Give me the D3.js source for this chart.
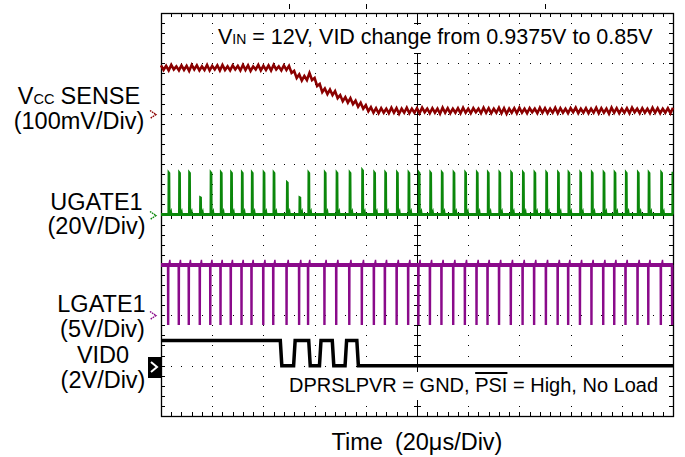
<!DOCTYPE html>
<html>
<head>
<meta charset="utf-8">
<script src="https://d3js.org/d3.v7.min.js"></script>
<style>
	body {
		margin: 0;
		background: #fff;
	}
	svg {
		display: block;
		font-family: "Liberation Sans", Arial, sans-serif;
	}
	.lbl {
		font-size: 23.5px;
		fill: #000;
	}
	.grid {
		stroke: #000;
		stroke-width: 1;
		shape-rendering: crispEdges;
	}
	.tick line {
		stroke: #000;
		shape-rendering: crispEdges;
	}
</style>
</head>
<body>
<script>

	// --- data (time in µs, 20µs/div, 10 div) ---
	var vccStep = 1;   // µs between VCC samples
	// VCC SENSE, mV above the channel marker (100mV/div)
	var vccMv = [
		96, 87, 95, 86, 97, 88, 94, 86, 96, 87,
		95, 85, 97, 88, 96, 86, 94, 87, 97, 86,
		95, 88, 96, 86, 97, 87, 94, 86, 96, 88,
		95, 86, 97, 87, 96, 85, 94, 88, 97, 86,
		95, 87, 96, 86, 97, 88, 94, 86, 96, 87,
		95, 81, 85, 71, 78, 66, 75, 67, 81, 67,
		71, 55, 59, 43, 50, 39, 48, 37, 45, 31,
		37, 25, 33, 22, 31, 19, 26, 14, 22, 10,
		17, 5, 13, 2, 11, 1,
		11, 2, 10, 1, 12, 2, 11, 0, 10, 2,
		12, 1, 10, 2, 11, 1, 12, 3, 10, 1,
		11, 2, 10, 0, 12, 2, 11, 1, 10, 2,
		11, 1, 12, 2, 10, 1, 11, 3, 10, 1,
		12, 2, 11, 1, 10, 2, 12, 1, 11, 0,
		10, 2, 11, 1, 12, 2, 10, 1, 11, 3,
		10, 1, 12, 2, 11, 1, 10, 2, 12, 1,
		11, 2, 10, 1, 11, 3, 12, 1, 10, 2,
		11, 1, 10, 2, 12, 1, 11, 2, 10, 0,
		12, 2, 11, 1, 10, 2, 11, 1, 12, 3,
		10, 1, 11, 2, 10, 1, 12, 2, 11, 1,
		10, 2, 11, 1, 12];

	// switching pulses (UGATE high / LGATE low), µs
	var pulseT = [2.85, 7.0, 10.9, 15.2, 19.3, 23.3, 27.3, 31.5, 35.4, 40.0, 43.9, 49.1, 54.0, 57.5, 63.9,
		68.5, 73.6, 78.5, 83.2, 87.5, 92.1, 96.6, 100.6, 105.1, 109.6, 114.2, 118.75, 123.3, 127.6, 132.1,
		136.7, 141.3, 145.8, 150.4, 155.0, 159.1, 163.7, 168.2, 172.8, 177.1, 181.5, 186.2, 190.4, 195.3, 199.7];
	// UGATE peak per pulse, V (20V/div)
	var ugateV = [17, 17, 17, 7, 17, 17, 17, 17, 17, 17, 17, 13, 7, 17, 17, 17, 17, 18, 17, 17, 17, 17, 17,
		17, 17, 17, 17, 17, 17, 17, 17, 17, 17, 17, 17, 17, 17, 17, 17, 17, 17, 17, 17, 17, 17];
	// LGATE levels, V (5V/div)
	var lgateHigh = 5, lgateLow = -0.9;
	// VID0 edges, µs, starting high (2V/div)
	var vidEdges = [46.8, 52.0, 57.9, 62.1, 67.1, 72.1, 76.7];
	var vidHigh = 1.0;
	// small marks above the screen, µs
	var markT = [50, 80, 150];

	// channel offsets (div) and scales (units per div)
	var chans = {
		vcc:   {off: 2,  per: 100, color: "#8b0000"},
		ugate: {off: 0,  per: 20,  color: "#0b870b"},
		lgate: {off: -2, per: 5,   color: "#8a0a8a"},
		vid:   {off: -3, per: 2,   color: "#000"}
	};

	var W = 685, H = 457;
	var pl = 161, pr = 673, pt = 13, pb = 416;

	var svg = d3.select("body").append("svg")
		.attr("width", W).attr("height", H);

	var x = d3.scaleLinear().domain([0, 200]).range([pl, pr]);
	var y = d3.scaleLinear().domain([-4, 4]).range([pb, pt]);

	function lev(ch, v) { return chans[ch].off + v / chans[ch].per; }

	// dotted graticule: a dot on every minor step
	var grid = svg.append("g");
	var xMinor = d3.range(0, 200.01, 4);
	var yMinor = d3.range(-4, 4.01, 0.2);
	d3.range(20, 200, 20).filter(function(t) { return t != 100; }).forEach(function(t) {
		grid.selectAll(null).data(yMinor).enter().append("rect")
			.attr("x", Math.round(x(t))).attr("y", function(d) { return Math.round(y(d)); })
			.attr("width", 1).attr("height", 1).attr("fill", "#000");
	});
	d3.range(-3, 4).filter(function(d) { return d != 0; }).forEach(function(d) {
		grid.selectAll(null).data(xMinor).enter().append("rect")
			.attr("x", function(t) { return Math.round(x(t)); }).attr("y", Math.round(y(d)))
			.attr("width", 1).attr("height", 1).attr("fill", "#000");
	});

	// centre cross
	svg.append("line").attr("class", "grid")
		.attr("x1", Math.round(x(100)) + 0.5).attr("x2", Math.round(x(100)) + 0.5)
		.attr("y1", pt).attr("y2", pb);
	svg.append("line").attr("class", "grid")
		.attr("y1", Math.round(y(0)) + 0.5).attr("y2", Math.round(y(0)) + 0.5)
		.attr("x1", pl).attr("x2", pr);

	function clean(g) { g.select(".domain").remove(); g.selectAll("text").remove(); }

	svg.append("g").attr("transform", "translate(0," + pt + ")")
		.call(d3.axisTop(x).tickValues(xMinor).tickSize(-4).tickFormat("")).call(clean);
	svg.append("g").attr("transform", "translate(0," + pb + ")")
		.call(d3.axisBottom(x).tickValues(xMinor).tickSize(-4).tickFormat("")).call(clean);
	svg.append("g").attr("transform", "translate(" + pl + ",0)")
		.call(d3.axisLeft(y).tickValues(yMinor).tickSize(-4).tickFormat("")).call(clean);
	svg.append("g").attr("transform", "translate(" + pr + ",0)")
		.call(d3.axisRight(y).tickValues(yMinor).tickSize(-4).tickFormat("")).call(clean);
	svg.append("g").attr("transform", "translate(" + (Math.round(x(100)) + 4) + ",0)")
		.call(d3.axisLeft(y).tickValues(yMinor).tickSize(7).tickFormat("")).call(clean);
	svg.append("g").attr("transform", "translate(0," + (Math.round(y(0)) - 3) + ")")
		.call(d3.axisBottom(x).tickValues(xMinor).tickSize(7).tickFormat("")).call(clean);

	// frame
	svg.append("rect").attr("x", pl + 0.5).attr("y", pt + 0.5)
		.attr("width", pr - pl).attr("height", pb - pt)
		.attr("fill", "none").attr("stroke", "#000").attr("stroke-width", 1.3);

	// marks above the screen
	markT.forEach(function(t) {
		svg.append("line").attr("class", "grid").attr("x1", Math.round(x(t)) + 0.5).attr("x2", Math.round(x(t)) + 0.5)
			.attr("y1", 4).attr("y2", 9).attr("stroke-width", 1);
	});

	// text boxes (white background hides graticule)
	svg.append("rect").attr("x", 214).attr("y", 25).attr("width", 446).attr("height", 28).attr("fill", "#fff");
	svg.append("rect").attr("x", 285).attr("y", 372).attr("width", 380).attr("height", 28).attr("fill", "#fff");

	var line = d3.line().x(function(d) { return x(d[0]); }).y(function(d) { return y(d[1]); });

	// VCC SENSE
	var vccPts = vccMv.map(function(v, i) { return [Math.min(i * vccStep, 200), lev("vcc", v)]; });
	svg.append("path").attr("d", line(vccPts))
		.attr("fill", "none").attr("stroke", chans.vcc.color).attr("stroke-width", 2.6);

	// UGATE1
	svg.append("path").attr("d", line([[0, 0], [200, 0]]))
		.attr("fill", "none").attr("stroke", chans.ugate.color).attr("stroke-width", 3.2);
	var ugPts = [[0, 0]];
	pulseT.forEach(function(t, i) {
		var h = lev("ugate", ugateV[i]);
		ugPts.push([t - 0.02, 0], [t + 0.05, h], [t + 0.45, h * 0.97], [t + 0.55, 0],
			[t + 1.1, lev("ugate", 1.4)], [t + 1.3, 0]);
	});
	ugPts.push([200, 0]);
	svg.append("path").attr("d", line(ugPts.filter(function(p) { return p[0] <= 200; })))
		.attr("fill", "none").attr("stroke", chans.ugate.color).attr("stroke-width", 1.7);

	// LGATE1
	var hi = lev("lgate", lgateHigh), lo = lev("lgate", lgateLow);
	var lgPts = [[0, hi]];
	pulseT.forEach(function(t) {
		lgPts.push([t - 0.3, hi], [t - 0.25, lo], [t + 0.15, lo], [t + 0.2, hi],
			[t + 0.6, lev("lgate", lgateHigh + 0.5)], [t + 0.8, hi]);
	});
	lgPts.push([200, hi]);
	svg.append("path").attr("d", line(lgPts.filter(function(p) { return p[0] <= 200; })))
		.attr("fill", "none").attr("stroke", chans.lgate.color).attr("stroke-width", 1.4);
	svg.append("path").attr("d", line([[0, hi], [200, hi]]))
		.attr("fill", "none").attr("stroke", chans.lgate.color).attr("stroke-width", 4);

	// VID0
	var level = vidHigh;
	var vidPts = [[0, lev("vid", level)]];
	vidEdges.forEach(function(e) {
		var next = level > 0 ? 0 : vidHigh;
		vidPts.push([e - 0.2, lev("vid", level)], [e + 0.4, lev("vid", next)]);
		level = next;
	});
	vidPts.push([200, lev("vid", level)]);
	svg.append("path").attr("d", line(vidPts))
		.attr("fill", "none").attr("stroke", chans.vid.color).attr("stroke-width", 3.5)
		.attr("stroke-linejoin", "miter");

	// channel markers
	function chevron(ch) {
		var cy = Math.round(y(chans[ch].off)) + 0.5;
		svg.append("path")
			.attr("d", "M150," + (cy - 4) + "L156," + cy + "L150," + (cy + 4))
			.attr("fill", "none").attr("stroke", chans[ch].color).attr("stroke-width", 1.4)
			.attr("stroke-dasharray", "1.6,0.8");
	}
	chevron("vcc");
	chevron("ugate");
	chevron("lgate");
	var vy = Math.round(y(chans.vid.off));
	svg.append("rect").attr("x", 148).attr("y", vy - 9).attr("width", 13).attr("height", 21).attr("fill", "#000");
	svg.append("path").attr("d", "M151," + (vy - 4) + "L157," + (vy + 1) + "L151," + (vy + 6))
		.attr("fill", "none").attr("stroke", "#fff").attr("stroke-width", 2);

	// channel labels, each line centred on cx
	function label(cx, yy, parts) {
		var t = svg.append("text").attr("class", "lbl").attr("y", yy);
		var extra = 0;
		parts.forEach(function(p) {
			var s = t.append("tspan").text(p.s);
			if (p.small) s.attr("font-size", "0.62em");
			if (p.dx) { s.attr("dx", p.dx); extra += p.dx; }
		});
		t.attr("x", cx - (t.node().getComputedTextLength() + extra) / 2);
	}
	label(79, 104, [{s: "V"}, {s: "CC", small: true}, {s: "SENSE", dx: 6}]);
	label(79, 129, [{s: "(100mV/Div)"}]);
	label(96.5, 210, [{s: "UGATE1"}]);
	label(96.5, 234, [{s: "(20V/Div)"}]);
	label(101.5, 312, [{s: "LGATE1"}]);
	label(102.5, 337, [{s: "(5V/Div)"}]);
	label(103, 363, [{s: "VID0"}]);
	label(103, 388, [{s: "(2V/Div)"}]);

	// title
	var t1 = svg.append("text").attr("x", 218).attr("y", 44).style("font-size", "21.5px");
	t1.append("tspan").text("V");
	t1.append("tspan").attr("font-size", "0.65em").text("IN");
	t1.append("tspan").text(" = 12V, VID change from 0.9375V to 0.85V");

	// conditions
	var t2 = svg.append("text").attr("x", 289).attr("y", 392).style("font-size", "20px");
	t2.append("tspan").text("DPRSLPVR = GND, ");
	t2.append("tspan").style("text-decoration", "overline").text("PSI");
	t2.append("tspan").text(" = High, No Load");

	// x title
	label(417, 450, [{s: "Time"}, {s: "(20\u03bcs/Div)", dx: 12}]);

</script>
</body>
</html>
